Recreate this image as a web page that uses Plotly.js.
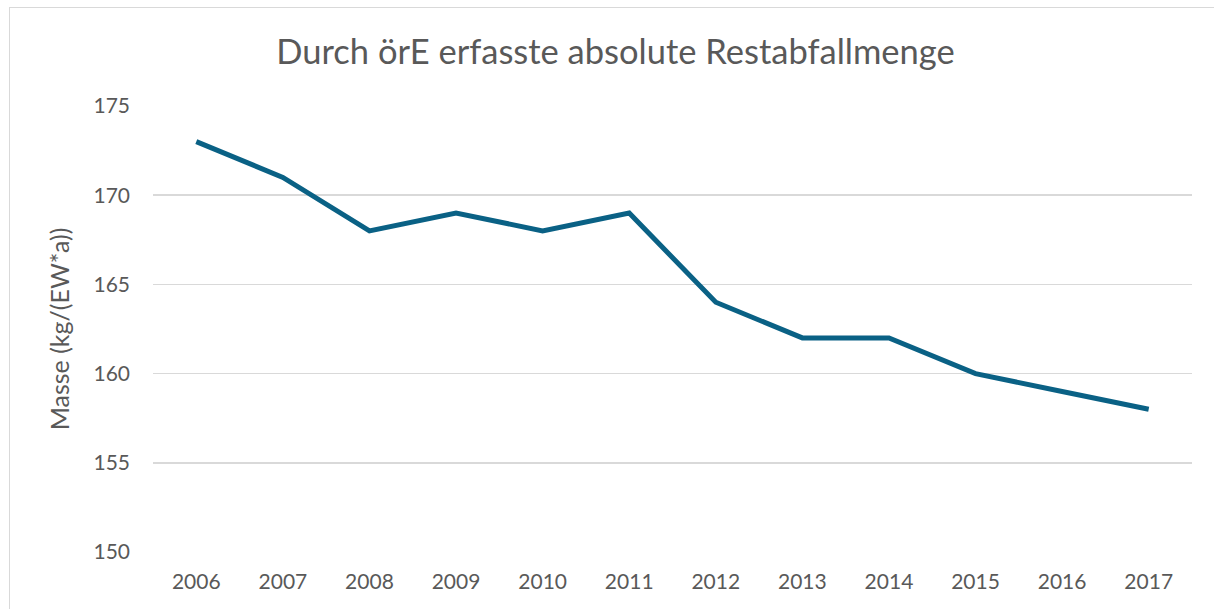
<!DOCTYPE html>
<html>
<head>
<meta charset="utf-8">
<script src="https://cdn.plot.ly/plotly-3.0.1.min.js"></script>
<style>
  html, body { margin: 0; padding: 0; overflow: hidden; background: #fff; }
  #chart { position: absolute; left: 0; top: 0; width: 1214px; height: 609px; }
  #frame { position: absolute; left: 9px; top: 7px; width: 1400px; height: 800px;
           border: 1px solid #d9d9d9; pointer-events: none; box-sizing: border-box; }
</style>
</head>
<body>
<div id="chart"></div>
<div id="frame"></div>
<script>
const years = ['2006','2007','2008','2009','2010','2011','2012','2013','2014','2015','2016','2017'];
const masse = [173, 171, 168, 169, 168, 169, 164, 162, 162, 160, 159, 158];
const yTicks = [150, 155, 160, 165, 170, 175];

const FONT = 'Lato, "Open Sans", "Liberation Sans", sans-serif';
const GREY = '#595959';

Plotly.newPlot('chart', [{
  type: 'scatter',
  mode: 'lines',
  x: years,
  y: masse,
  line: { color: '#0a6185', width: 5, shape: 'linear' },
  hoverinfo: 'x+y'
}], {
  width: 1214,
  height: 609,
  paper_bgcolor: '#ffffff',
  plot_bgcolor: '#ffffff',
  margin: { l: 153, r: 22, t: 106, b: 57, pad: 0 },
  showlegend: false,
  title: {
    text: 'Durch örE erfasste absolute Restabfallmenge',
    font: { family: FONT, size: 34.5, color: GREY },
    x: 0.507, xanchor: 'center',
    y: 0.915, yanchor: 'middle'
  },
  xaxis: {
    type: 'category',
    range: [-0.5, 11.5],
    showgrid: false,
    zeroline: false,
    showline: false,
    ticks: '',
    tickfont: { family: FONT, size: 21, color: GREY },
    ticklabelstandoff: 15
  },
  yaxis: {
    range: [150, 175],
    tickvals: yTicks,
    ticktext: yTicks.map(String),
    showgrid: true,
    gridcolor: '#d9d9d9',
    gridwidth: 1.5,
    zeroline: false,
    showline: false,
    ticks: '',
    tickfont: { family: FONT, size: 21, color: GREY },
    ticklabelstandoff: 22,
    title: {
      text: 'Masse (kg/(EW*a))',
      font: { family: FONT, size: 25, color: GREY },
      standoff: 16
    }
  }
}, { displayModeBar: false, staticPlot: true });
</script>
</body>
</html>
